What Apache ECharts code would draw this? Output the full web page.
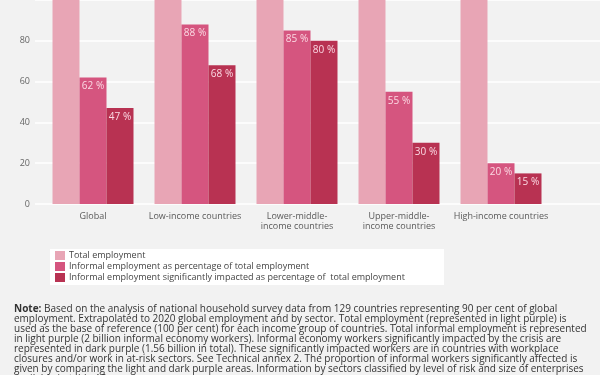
<!DOCTYPE html>
<html>
<head>
<meta charset="utf-8">
<script src="https://cdn.jsdelivr.net/npm/echarts@6/dist/echarts.min.js"></script>
<style>html,body{margin:0;padding:0;background:#f2f2f2;}#c{width:600px;height:375px;}</style>
</head>
<body>
<div id="c"></div>
<script>
var categories = ['Global', 'Low-income countries', 'Lower-middle-\nincome countries', 'Upper-middle-\nincome countries', 'High-income countries'];
var totalEmployment = [100, 100, 100, 100, 100];
var informalEmployment = [62, 88, 85, 55, 20];
var informalImpacted = [47, 68, 80, 30, 15];
var yTicks = [0, 20, 40, 60, 80, 100];
var seriesNames = ['Total employment', 'Informal employment as percentage of total employment', 'Informal employment significantly impacted as percentage of  total employment'];
var noteLines = [
  '{b|Note:} Based on the analysis of national household survey data from 129 countries representing 90 per cent of global',
  'employment. Extrapolated to 2020 global employment and by sector. Total employment (represented in light purple) is',
  'used as the base of reference (100 per cent) for each income group of countries. Total informal employment is represented',
  'in light purple (2 billion informal economy workers). Informal economy workers significantly impacted by the crisis are',
  'represented in dark purple (1.56 billion in total). These significantly impacted workers are in countries with workplace',
  'closures and/or work in at-risk sectors. See Technical annex 2. The proportion of informal workers significantly affected is',
  'given by comparing the light and dark purple areas. Information by sectors classified by level of risk and size of enterprises',
  'available in table A2.'
];

var colors = ['#e8a5b5', '#d5557f', '#b83252'];
var font = '"Open Sans", "Noto Sans", sans-serif';
var chart = echarts.init(document.getElementById('c'), null, {renderer: 'canvas'});
var lbl = {show: true, position: 'insideTop', distance: 4, formatter: '{c} %', color: '#fbd9e3', fontSize: 10, fontFamily: font};
chart.setOption({
  backgroundColor: '#f2f2f2',
  animation: false,
  textStyle: {fontFamily: font},
  grid: [
    {left: 35, right: 0, top: -4, height: 208},
    {left: 42, right: 48, top: -4, height: 208}
  ],
  xAxis: [
    {gridIndex: 0, type: 'value', min: 0, max: 1, show: false},
    {gridIndex: 1, type: 'category', data: categories,
     axisLine: {show: false}, axisTick: {show: false},
     axisLabel: {color: '#595959', fontSize: 9, lineHeight: 9.5, margin: 8, fontFamily: font, interval: 0}}
  ],
  yAxis: [
    {gridIndex: 0, type: 'value', min: yTicks[0], max: yTicks[yTicks.length - 1], interval: 20,
     axisLine: {show: false}, axisTick: {show: false},
     axisLabel: {color: '#666', fontSize: 9, margin: 5, fontFamily: font, showMaxLabel: false},
     splitLine: {lineStyle: {color: '#ffffff', width: 1.5}}},
    {gridIndex: 1, type: 'value', min: 0, max: 100, interval: 20, show: false, splitLine: {show: false}}
  ],
  legend: {
    orient: 'vertical', left: 55, top: 251, itemWidth: 10, itemHeight: 9, itemGap: 2,
    icon: 'rect', padding: 0,
    textStyle: {fontSize: 9, color: '#444', fontFamily: font, padding: [0, 0, 0, -1]},
    data: seriesNames
  },
  graphic: [
    {type: 'rect', left: 50, top: 249, z: 0, shape: {width: 394, height: 36}, style: {fill: '#ffffff'}},
    {type: 'text', left: 14, top: 304, z: 1,
     style: {text: noteLines.join('\n'), fill: '#333', fontSize: 10, lineHeight: 10, fontFamily: font,
       rich: {b: {fontWeight: 'bold', fontSize: 10, fill: '#333', fontFamily: font, lineHeight: 10}}}}
  ],
  series: [
    {name: seriesNames[0], type: 'bar', xAxisIndex: 1, yAxisIndex: 1, data: totalEmployment, barWidth: 27, barGap: '0%', itemStyle: {color: colors[0]}},
    {name: seriesNames[1], type: 'bar', xAxisIndex: 1, yAxisIndex: 1, data: informalEmployment, barWidth: 27, barGap: '0%', itemStyle: {color: colors[1]}, label: lbl},
    {name: seriesNames[2], type: 'bar', xAxisIndex: 1, yAxisIndex: 1, data: informalImpacted, barWidth: 27, barGap: '0%', itemStyle: {color: colors[2]}, label: lbl}
  ]
});
</script>
</body>
</html>
